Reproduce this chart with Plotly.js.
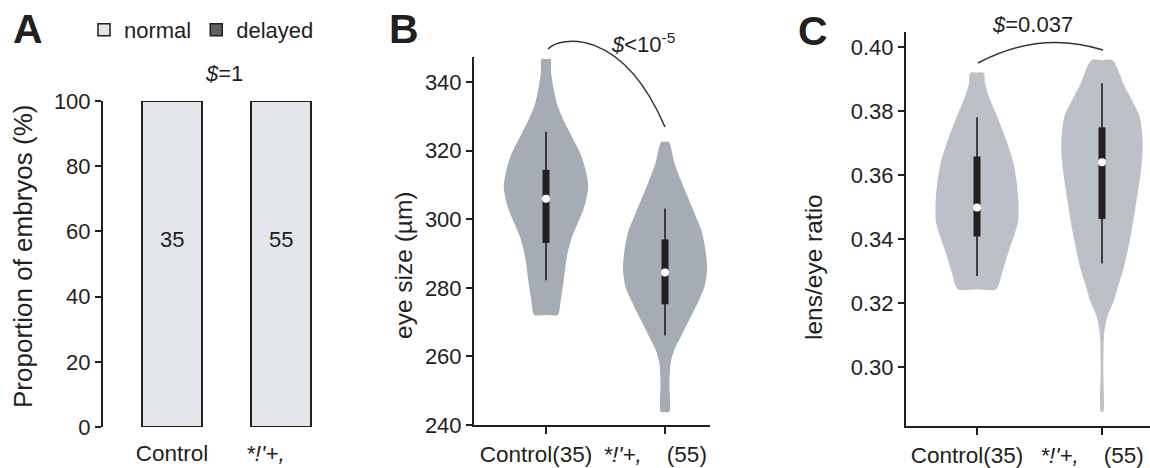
<!DOCTYPE html>
<html><head><meta charset="utf-8">
<script src="https://cdn.plot.ly/plotly-3.0.1.min.js"></script>
<style>html,body{margin:0;padding:0;background:#fff}#chart{width:1150px;height:468px}</style>
</head><body><div id="chart"></div>
<script>
// ---------- Panel A data ----------
const groupsA = ["Control", "<i>*!'+,</i>\u00a0\u00a0\u00a0\u00a0\u00a0"];
const normalPct = [100, 100];
const delayedPct = [0, 0];
const nEmbryos = [35, 55];
const yTicksA = [0, 20, 40, 60, 80, 100];
const pA = "<i>$</i>=1";

// ---------- Panel B data (eye size, µm) ----------
const groupsB = ["Control(35)", "<i>*!'+,</i>\u00a0\u00a0\u00a0\u00a0(55)"];
const eyeCtrlLevels  = [346.7, 343.0, 338.2, 333.3, 328.4, 323.6, 318.7, 313.8, 309.5, 304.1, 299.3, 294.4, 289.6, 281.8, 277.0, 272.1];
const eyeCtrlDensity = [0.107, 0.118, 0.178, 0.268, 0.434, 0.633, 0.829, 0.948, 1.000, 0.919, 0.770, 0.604, 0.502, 0.415, 0.355, 0.277];
const eyeMutLevels   = [322.6, 316.3, 311.4, 306.6, 301.7, 296.9, 291.0, 285.2, 280.3, 275.5, 270.6, 265.7, 261.8, 257.9, 252.1, 243.8];
const eyeMutDensity  = [0.090, 0.226, 0.376, 0.536, 0.702, 0.862, 0.964, 1.000, 0.940, 0.774, 0.576, 0.376, 0.219, 0.131, 0.107, 0.100];
const eyeQ1 = [293.1, 275.2];
const eyeMedian = [306.0, 284.5];
const eyeQ3 = [314.4, 294.1];
const eyeLow = [282.2, 266.1];
const eyeHigh = [325.5, 303.1];
const yTicksB = [240, 260, 280, 300, 320, 340];
const pB = "<i>$</i><10<sup>-5</sup>";

// ---------- Panel C data (lens/eye ratio) ----------
const groupsC = ["Control(35)", "<i>*!'+,</i>\u00a0\u00a0\u00a0\u00a0(55)"];
const ratioCtrlLevels  = [0.3920, 0.3887, 0.3855, 0.3803, 0.3751, 0.3699, 0.3647, 0.3584, 0.3522, 0.3459, 0.3418, 0.3376, 0.3334, 0.3293, 0.3243];
const ratioCtrlDensity = [0.162, 0.194, 0.262, 0.424, 0.586, 0.738, 0.864, 0.956, 1.000, 1.000, 0.920, 0.806, 0.702, 0.605, 0.460];
const ratioMutLevels   = [0.3959, 0.3918, 0.3887, 0.3834, 0.3782, 0.3699, 0.3626, 0.3522, 0.3418, 0.3313, 0.3262, 0.3209, 0.3157, 0.3105, 0.3001, 0.2860];
const ratioMutDensity  = [0.254, 0.424, 0.513, 0.726, 0.915, 0.988, 0.956, 0.840, 0.707, 0.533, 0.412, 0.291, 0.128, 0.053, 0.031, 0.031];
const ratioQ1 = [0.3408, 0.3463];
const ratioMedian = [0.3499, 0.3640];
const ratioQ3 = [0.3658, 0.3749];
const ratioLow = [0.3285, 0.3324];
const ratioHigh = [0.3781, 0.3887];
const yTicksC = [0.30, 0.32, 0.34, 0.36, 0.38, 0.40];
const pC = "<i>$</i>=0.037";

// ---------- styles ----------
const W = 1150, H = 468;
const INK = '#231f20';
const FONT = 'Liberation Sans, Arial, Helvetica, sans-serif';
const colNormal = '#e3e6ea', colDelayed = '#5a6366';
const colViolinB = '#a5acb4', colViolinC = '#bcc1c7';
const px = (x) => x / W, py = (y) => 1 - y / H;

function violin(pos, levels, dens, half, color, xa, ya) {
  const n = levels.length;
  const xs = [pos], ys = [levels[0]];
  for (let i = 0; i < n; i++) { xs.push(pos + dens[i] * half); ys.push(levels[i]); }
  xs.push(pos); ys.push(levels[n - 1]);
  for (let i = n - 1; i >= 0; i--) { xs.push(pos - dens[i] * half); ys.push(levels[i]); }
  xs.push(pos); ys.push(levels[0]);
  return {type: 'scatter', mode: 'lines', x: xs, y: ys, fill: 'toself', fillcolor: color,
    line: {width: 0, color: color, shape: 'spline', smoothing: 0.75}, xaxis: xa, yaxis: ya,
    showlegend: false, hoverinfo: 'skip'};
}
// whiskers (thin) and interquartile boxes (thick) drawn as vertical line segments
function segs(a, b, w, xa, ya) {
  const xs = [], ys = [];
  for (let i = 0; i < a.length; i++) { xs.push(i, i, null); ys.push(a[i], b[i], null); }
  return {type: 'scatter', mode: 'lines', x: xs, y: ys, line: {color: INK, width: w},
    xaxis: xa, yaxis: ya, showlegend: false, hoverinfo: 'skip'};
}
function dots(med, xa, ya) {
  return {type: 'scatter', mode: 'markers', x: [0, 1], y: med, marker: {color: '#ffffff', size: 8},
    xaxis: xa, yaxis: ya, showlegend: false, hoverinfo: 'skip'};
}

const traces = [
  {type: 'bar', name: 'normal', x: [0, 1], y: normalPct, width: 0.55,
   marker: {color: colNormal, line: {color: INK, width: 1.5}}, xaxis: 'x', yaxis: 'y', hoverinfo: 'skip'},
  {type: 'bar', name: 'delayed', x: [0, 1], y: delayedPct, width: 0.55,
   marker: {color: colDelayed, line: {color: INK, width: 1.5}}, xaxis: 'x', yaxis: 'y', hoverinfo: 'skip'},
  violin(0, eyeCtrlLevels, eyeCtrlDensity, 0.355, colViolinB, 'x2', 'y2'),
  violin(1, eyeMutLevels, eyeMutDensity, 0.353, colViolinB, 'x2', 'y2'),
  segs(eyeLow, eyeHigh, 1.6, 'x2', 'y2'),
  segs(eyeQ1, eyeQ3, 7, 'x2', 'y2'),
  dots(eyeMedian, 'x2', 'y2'),
  violin(0, ratioCtrlLevels, ratioCtrlDensity, 0.33, colViolinC, 'x3', 'y3'),
  violin(1, ratioMutLevels, ratioMutDensity, 0.33, colViolinC, 'x3', 'y3'),
  segs(ratioLow, ratioHigh, 1.6, 'x3', 'y3'),
  segs(ratioQ1, ratioQ3, 7, 'x3', 'y3'),
  dots(ratioMedian, 'x3', 'y3')
];

const yCommon = {showline: true, linewidth: 2, linecolor: INK, ticks: 'outside', ticklen: 6, tickwidth: 2,
  tickcolor: INK, showgrid: false, zeroline: false, tickfont: {size: 22, color: INK}};
const xCommon = {showgrid: false, zeroline: false, tickvals: [0, 1], tickfont: {size: 22.5, color: INK}};

const ann = (x, y, text, size, extra) => Object.assign({xref: 'paper', yref: 'paper', x: x, y: y,
  text: text, showarrow: false, xanchor: 'center', yanchor: 'middle', font: {size: size, color: INK, family: FONT}}, extra || {});

const layout = {
  width: W, height: H, margin: {l: 0, r: 0, t: 0, b: 0},
  paper_bgcolor: '#ffffff', plot_bgcolor: 'rgba(0,0,0,0)',
  font: {family: FONT, size: 22, color: INK},
  barmode: 'stack', showlegend: true,
  legend: {orientation: 'h', x: px(84), y: py(30), xanchor: 'left', yanchor: 'middle',
    font: {size: 22, color: INK}, bgcolor: 'rgba(0,0,0,0)', traceorder: 'normal'},
  xaxis: Object.assign({}, xCommon, {domain: [px(103), px(330)], range: [-0.633, 1.4495], anchor: 'y',
    ticktext: groupsA, showline: false, ticks: '', ticklabelstandoff: 10}),
  yaxis: Object.assign({}, yCommon, {domain: [py(427), py(101)], range: [0, 100], anchor: 'x', tickvals: yTicksA}),
  xaxis2: Object.assign({}, xCommon, {domain: [px(474), px(710)], range: [-0.605, 1.378], anchor: 'y2',
    ticktext: groupsB, showline: true, linewidth: 2, linecolor: INK, ticks: 'outside', ticklen: 7, tickwidth: 2,
    tickcolor: INK, ticklabelstandoff: 1, ticklabelshift: -10}),
  yaxis2: Object.assign({}, yCommon, {domain: [py(425), py(57)], range: [240, 347.3], anchor: 'x2', tickvals: yTicksB}),
  xaxis3: Object.assign({}, xCommon, {domain: [px(906), 1], range: [-0.568, 1.384], anchor: 'y3',
    ticktext: groupsC, showline: true, linewidth: 2, linecolor: INK, ticks: 'outside', ticklen: 7, tickwidth: 2,
    tickcolor: INK, ticklabelstandoff: 1, ticklabelshift: -10}),
  yaxis3: Object.assign({}, yCommon, {domain: [py(426), py(32)], range: [0.2816, 0.4047], anchor: 'x3',
    tickvals: yTicksC, tickformat: '.2f'}),
  annotations: [
    ann(px(28), py(29), '<b>A</b>', 41),
    ann(px(404), py(29), '<b>B</b>', 41),
    ann(px(813), py(31), '<b>C</b>', 41),
    ann(px(224), py(73), pA, 22),
    ann(px(643), py(43), pB, 22),
    ann(px(1032), py(24), pC, 22),
    ann(px(23), py(257), 'Proportion of embryos (%)', 26, {textangle: -90}),
    ann(px(403), py(265), 'eye size (µm)', 24.5, {textangle: -90}),
    ann(px(813), py(267), 'lens/eye ratio', 24.5, {textangle: -90}),
    {xref: 'x', yref: 'y', x: 0, y: 57.4, text: String(nEmbryos[0]), showarrow: false, font: {size: 22, color: INK}},
    {xref: 'x', yref: 'y', x: 1, y: 57.4, text: String(nEmbryos[1]), showarrow: false, font: {size: 22, color: INK}}
  ],
  shapes: [
    {type: 'path', xref: 'paper', yref: 'paper', line: {color: '#333333', width: 1.5},
     path: `M ${px(548)},${py(49)} C ${px(560)},${py(36)} ${px(622)},${py(27)} ${px(665)},${py(127)}`},
    {type: 'path', xref: 'paper', yref: 'paper', line: {color: '#333333', width: 1.5},
     path: `M ${px(978)},${py(63)} Q ${px(1040)},${py(30)} ${px(1103)},${py(50)}`}
  ]
};

Plotly.newPlot('chart', traces, layout, {staticPlot: true, displayModeBar: false});
</script>
</body></html>
